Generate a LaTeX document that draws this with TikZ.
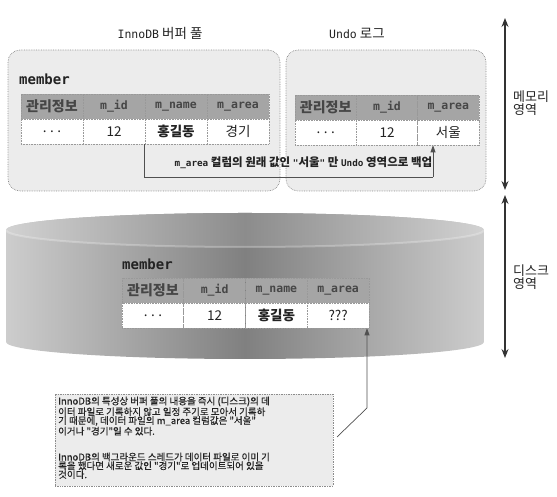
\documentclass[tikz,border=0pt]{standalone}
\usepackage{fontspec}
\setmainfont{Noto Sans CJK KR}
\newfontfamily\mn{DejaVu Sans Mono}
\newfontfamily\krw{Noto Sans CJK KR}[FakeBold=0.4]
\usetikzlibrary{arrows.meta}
\newcommand\mtt[2][11.5]{{\fontsize{#1}{#1}\mn #2}}
\newcommand\sptdots{.\hspace{3.5pt}.\hspace{3.5pt}.}
\definecolor{boxfill}{RGB}{236,236,236}
\definecolor{boxline}{RGB}{140,140,140}
\definecolor{hdrfill}{RGB}{165,165,165}
\definecolor{hdrtext}{RGB}{70,70,70}
\definecolor{celltext}{RGB}{35,35,35}
\definecolor{wire}{RGB}{80,80,80}
\definecolor{cyledge}{RGB}{205,205,205}
\definecolor{cylmid}{RGB}{128,128,128}
\definecolor{topedge}{RGB}{210,210,210}
\definecolor{topmid}{RGB}{140,140,140}
\tikzset{
  membox/.style={draw=boxline, densely dotted, line width=0.7pt, fill=boxfill, rounded corners=12pt, inner sep=0pt},
  hcell/.style={draw=gray!80, densely dotted, line width=0.6pt, fill=hdrfill, minimum height=25pt, inner sep=0pt, text=hdrtext, font=\fontsize{14}{14}\selectfont\bfseries},
  rcell/.style={draw=gray!80, densely dotted, line width=0.6pt, fill=white, minimum height=25pt, inner sep=0pt, text=celltext, font=\fontsize{13.5}{14}\selectfont},
  title/.style={inner sep=0pt, text=celltext, font=\fontsize{13.5}{14}\selectfont},
  tname/.style={inner sep=0pt, anchor=base west, text=celltext, font=\fontsize{14}{14}\mn\bfseries},
  wireline/.style={draw=wire, line width=0.7pt},
  wirearrow/.style={wireline, -{Triangle[length=7pt,width=5pt]}},
  bigarrow/.style={draw=black!80, line width=1.1pt, {Stealth[length=9pt,width=7pt,inset=3pt]}-{Stealth[length=9pt,width=7pt,inset=3pt]}},
  sidelabel/.style={anchor=west, inner sep=0pt, align=left, text=celltext, font=\fontsize{13}{13.5}\selectfont},
}
\begin{document}
\begin{tikzpicture}[x=1pt,y=1pt]
\useasboundingbox (0,0) rectangle (557,497);
% ---------- memory area ----------
\node[membox, minimum width=272pt, minimum height=141pt] (bpool) at (144,376.5) {};
\node[membox, minimum width=200pt, minimum height=141pt] (undo) at (386,376.5) {};
\node[title] (bptitle) at (160,464) {\mtt{InnoDB} 버퍼 풀};
\node[title] (undotitle) at (357,464) {\mtt{Undo} 로그};
\node[tname] (lmem) at (19,412) {member};
% left table
\node[hcell, minimum width=62pt] (lh1) at (52,390.5) {관리정보};
\node[hcell, minimum width=62pt] (lh2) at (114,390.5) {\mtt{m\_id}};
\node[hcell, minimum width=62pt] (lh3) at (176,390.5) {\mtt{m\_name}};
\node[hcell, minimum width=62pt] (lh4) at (238,390.5) {\mtt{m\_area}};
\node[rcell, minimum width=62pt] (lr1) at (52,365.5) {\sptdots};
\node[rcell, minimum width=62pt] (lr2) at (114,365.5) {12};
\node[rcell, minimum width=62pt] (lr3) at (176,365.5) {\bfseries 홍길동};
\node[rcell, minimum width=62pt] (lr4) at (238,365.5) {경기};
% undo table
\node[hcell, minimum width=61.3pt] (uh1) at (325.7,389.5) {관리정보};
\node[hcell, minimum width=61.3pt] (uh2) at (387,389.5) {\mtt{m\_id}};
\node[hcell, minimum width=61.3pt] (uh3) at (448.3,389.5) {\mtt{m\_area}};
\node[rcell, minimum width=61.3pt] (ur1) at (325.7,364.5) {\sptdots};
\node[rcell, minimum width=61.3pt] (ur2) at (387,364.5) {12};
\node[rcell, minimum width=61.3pt] (ur3) at (448.3,364.5) {서울};
% backup connector
\coordinate (bk) at (433,320);
\draw[wireline] (lr3.south west) |- (bk);
\draw[wirearrow] (bk) -- (bk |- ur3.south);
\node[inner sep=0pt, text=celltext, font=\fontsize{11.5}{12}\selectfont\bfseries] (bktxt) at (303.5,334)
  {\mtt[9.3]{m\_area} 컬럼의 원래 값인 \mtt[9.3]{"}서울\mtt[9.3]{"} 만 \mtt[9.3]{Undo} 영역으로 백업};
% ---------- disk area ----------
\path[left color=cyledge, right color=cyledge, middle color=cylmid]
  (6,267) -- (6,155) arc[start angle=180, end angle=360, x radius=239pt, y radius=17pt]
  -- (484,267) arc[start angle=0, end angle=180, x radius=239pt, y radius=17pt] -- cycle;
\path[left color=topedge, right color=topedge, middle color=topmid]
  (245,267) ellipse[x radius=239pt, y radius=17pt];
\draw[white, opacity=0.25, line width=2pt]
  (6,267) arc[start angle=180, end angle=360, x radius=239pt, y radius=17pt];
\node[tname] (dmem) at (122,227) {member};
\node[hcell, minimum width=61.75pt] (dh1) at (152.9,206.5) {관리정보};
\node[hcell, minimum width=61.75pt] (dh2) at (214.6,206.5) {\mtt{m\_id}};
\node[hcell, minimum width=61.75pt] (dh3) at (276.4,206.5) {\mtt{m\_name}};
\node[hcell, minimum width=61.75pt] (dh4) at (338.1,206.5) {\mtt{m\_area}};
\node[rcell, minimum width=61.75pt] (dr1) at (152.9,181.5) {\sptdots};
\node[rcell, minimum width=61.75pt] (dr2) at (214.6,181.5) {12};
\node[rcell, minimum width=61.75pt] (dr3) at (276.4,181.5) {\bfseries 홍길동};
\node[rcell, minimum width=61.75pt] (dr4) at (338.1,181.5) {???};
% ---------- callout ----------
\node[draw=boxline, densely dotted, line width=0.7pt, fill=boxfill, minimum width=278pt, minimum height=92pt, inner sep=0pt] (callout) at (194,57) {};
\node[anchor=north west, inner sep=0pt, align=left, text=celltext, font=\fontsize{9.5}{8.8}\krw] (cotxt) at (58,100.5)
  {InnoDB의 특성상 버퍼 풀의 내용을 즉시 (디스크)의 데\\
   이터 파일로 기록하지 않고 일정 주기로 모아서 기록하\\
   기 때문에, 데이터 파일의 m\_area 컬럼값은 "서울"\\
   이거나 "경기"일 수 있다.\\[17pt]
   InnoDB의 백그라운드 스레드가 데이터 파일로 이미 기\\
   록을 했다면 새로운 값인 "경기"로 업데이트되어 있을\\
   것이다.};
\coordinate (cs) at (337,60);
\coordinate (ck) at (367,89);
\draw[wirearrow] (cs) -- (ck) -- (ck |- dr4.south);
% ---------- side arrows ----------
\coordinate (m1) at (505,479);
\coordinate (m2) at (505,307);
\coordinate (d1) at (505,302);
\coordinate (d2) at (505,139);
\draw[bigarrow] (m1) -- (m2);
\draw[bigarrow] (d1) -- (d2);
\node[sidelabel] (memlbl) at (513,394) {메모리\\영역};
\node[sidelabel] (disklbl) at (513,220) {디스크\\영역};
\end{tikzpicture}
\end{document}
